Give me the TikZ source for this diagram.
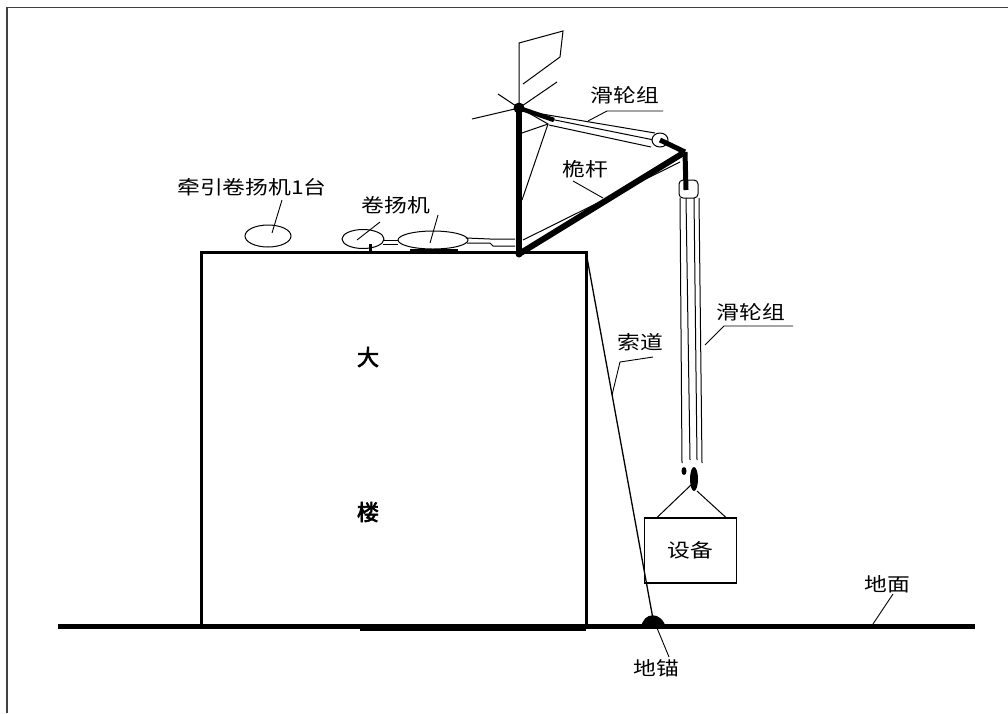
\documentclass[tikz,border=0pt]{standalone}
\usepackage{fontspec}
\usepackage{graphicx}
\newfontfamily\cjk{Noto Sans CJK SC}
\newfontfamily\cjkheavy[FakeBold=3]{Noto Sans CJK SC}
\newcommand\wide[1]{\scalebox{1.2}[1]{#1}}
\begin{document}
\begin{tikzpicture}[x=1pt,y=-1pt,
  lbl/.style={font=\cjk\fontsize{19}{21}\selectfont, inner sep=0pt},
  bigchar/.style={font=\cjkheavy\fontsize{22}{24}\selectfont, inner sep=0pt},
  rope/.style={line width=1pt},
  leader/.style={line width=0.9pt},
  spar/.style={line width=6pt},
  wall/.style={line width=3pt},
]
\useasboundingbox (0,0) rectangle (1008,713);

% sheet border
\draw[line width=1.6pt, black!75] (7,713) -- (7,7.5) -- (1008,7.5);

% ground and building
\coordinate (gl) at (58,626.5);
\coordinate (gr) at (975,626.5);
\draw[line width=5pt] (gl) -- (gr);
\draw[line width=6pt] (360,628) -- (586,628);
\coordinate (bl) at (201,626);
\coordinate (btl) at (201,252);
\coordinate (btr) at (586,252);
\coordinate (bbr) at (586,626);
\draw[wall] (bl) -- (btl) -- (btr) -- (bbr);
\node[bigchar] (da) at (368,357) {大};
\node[bigchar] (lou) at (368,512) {楼};

% mast and boom
\coordinate (mtop) at (519,108);
\coordinate (mbase) at (519,254);
\coordinate (btip) at (685,152);
\draw[spar] (mbase) -- (mtop);
\draw[spar] (mbase) -- (btip);
\fill (mtop) circle (5.5);
\fill (mbase) circle (3.5);
\draw[line width=5pt] (btip) -- (686,190);

% flag and guys at the mast head
\coordinate (f1) at (519,43);
\coordinate (f2) at (563,31);
\coordinate (f3) at (560,57);
\coordinate (f4) at (523,84);
\draw[rope] (mtop) -- (f1) -- (f2) -- (f3) -- (f4);
\coordinate (g1) at (472,119);
\coordinate (g2) at (498,94);
\coordinate (g3) at (557,82);
\draw[rope] (g1) -- (mtop);
\draw[rope] (g2) -- (mtop);
\draw[rope] (mtop) -- (g3);
\coordinate (s1) at (548,124);
\draw[rope] (527,112) -- (s1) -- (522,200);
\draw[rope] (519,134) -- (s1);

% upper tackle between mast head and boom tip
\coordinate (sheave) at (660,140);
\draw[line width=4.5pt] (mtop) -- (554,120);
\draw[rope] (530,112) -- (655,133);
\draw[rope] (545,118) -- (654,140);
\draw[rope] (549,125) -- (651,147);
\draw[rope, fill=white] (sheave) ellipse (8 and 7);
\draw[line width=5pt] (sheave) -- (btip);
\draw[rope] (523,240) -- (680,162);

% winches on the roof
\coordinate (w1) at (268,236);
\coordinate (w2) at (363,239);
\coordinate (w3) at (433,240);
\draw[rope] (w1) ellipse (23 and 11);
\draw[rope] (w2) ellipse (21 and 9.5);
\draw[rope] (w3) ellipse (35 and 9);
\draw[line width=3pt] (370,244) -- (370,251);
\draw[line width=3pt] (410,250) -- (458,250);
\draw[rope] (383,240) -- (398,240);
\draw[rope] (383,244) -- (398,244);
\draw[rope] (466,238) -- (490,239) -- (515,239);
\draw[rope] (467,243) -- (490,243) -- (493,246) -- (515,246);

% lower tackle hanging from the boom tip
\draw[rope, rounded corners=4] (679,180) rectangle (698,198);
\draw[rope] (680,198) -- (682,463);
\draw[rope] (686,198) -- (690,460);
\draw[rope] (694,198) -- (697,460);
\draw[rope] (699,198) -- (702,463);
\fill (694,479) ellipse (4 and 12);
\fill (684,471) ellipse (2.5 and 4);

% load and slings
\node[draw, line width=1.6pt, minimum width=92pt, minimum height=65pt, inner sep=0pt] (load) at (690.5,550.5) {};
\node[lbl] (sb) at (load.center) {\wide{设备}};
\draw[rope] (692,484) -- (657,517.5);
\draw[rope] (697,491) -- (726,517.5);

% trackline to the ground anchor
\coordinate (anchor) at (653,619);
\draw[line width=1.3pt] (btr) -- (anchor);
\fill (641,628) .. controls (643,611) and (662,611) .. (666,628) -- cycle;

% labels and leaders
\node[lbl] (t1) at (252,187) {\wide{牵引卷扬机1台}};
\draw[leader] (282,200) -- (272,233);

\node[lbl] (t2) at (396,205) {\wide{卷扬机}};
\draw[leader] (380,222) -- (357,240);
\draw[leader] (438,215) -- (430,243);

\node[lbl] (t3) at (625,95) {\wide{滑轮组}};
\draw[leader] (588,121) -- (607,111) -- (663,111);

\node[lbl] (t4) at (585,169) {\wide{桅杆}};
\draw[leader] (573,181) -- (603,198);

\node[lbl] (t5) at (751,312) {\wide{滑轮组}};
\draw[leader] (705,345) -- (724,326) -- (793,326);

\node[lbl] (t6) at (640,342) {\wide{索道}};
\draw[leader] (612,395) -- (620,362) -- (653,357);

\node[lbl] (t7) at (656,668) {\wide{地锚}};
\draw[leader] (657,628) -- (669,657);

\node[lbl] (t8) at (887,584) {\wide{地面}};
\draw[leader] (893,594) -- (873,624);
\end{tikzpicture}
\end{document}
